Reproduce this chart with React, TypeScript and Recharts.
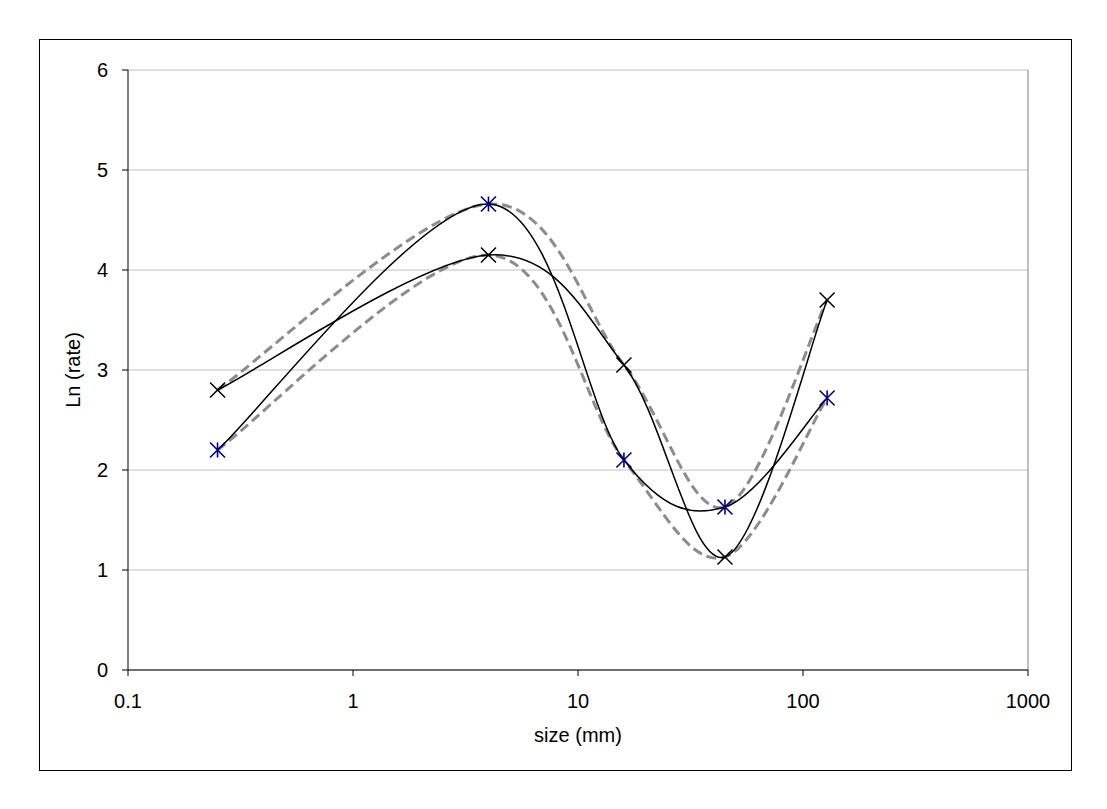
import React from 'react';
import { LineChart, Line, XAxis, YAxis, CartesianGrid, ReferenceLine } from 'recharts';

// particle sizes (mm) and Ln(rate) readings
const sizes = [0.25, 4, 16, 45, 128];
const crossSeries = [2.8, 4.15, 3.05, 1.13, 3.7];
const starSeries = [2.2, 4.66, 2.1, 1.63, 2.72];
const dashedUpper = [2.8, 4.66, 3.05, 1.63, 3.7];
const dashedLower = [2.2, 4.15, 2.1, 1.13, 2.72];
const xTicks = [0.1, 1, 10, 100, 1000];
const yTicks = [0, 1, 2, 3, 4, 5, 6];

const data = sizes.map((size, i) => ({
  size,
  cross: crossSeries[i],
  star: starSeries[i],
  dashA: dashedUpper[i],
  dashB: dashedLower[i],
}));

const FONT = '"Liberation Sans", Arial, sans-serif';

// Excel-like smoothed line (cardinal spline, tangent = (next - prev) / 6)
const excelSmooth = (context: any) => {
  let pts: number[][] = [];
  return {
    areaStart() {},
    areaEnd() {},
    lineStart() {
      pts = [];
    },
    point(x: number, y: number) {
      pts.push([+x, +y]);
    },
    lineEnd() {
      if (!pts.length) return;
      context.moveTo(pts[0][0], pts[0][1]);
      for (let i = 0; i < pts.length - 1; i++) {
        const p0 = pts[Math.max(0, i - 1)];
        const p1 = pts[i];
        const p2 = pts[i + 1];
        const p3 = pts[Math.min(pts.length - 1, i + 2)];
        context.bezierCurveTo(
          p1[0] + (p2[0] - p0[0]) / 6,
          p1[1] + (p2[1] - p0[1]) / 6,
          p2[0] - (p3[0] - p1[0]) / 6,
          p2[1] - (p3[1] - p1[1]) / 6,
          p2[0],
          p2[1]
        );
      }
    },
  };
};

const R = 7.5;

const renderCross = (props: any) => {
  const { cx, cy, index } = props;
  return (
    <path
      key={`cross-${index}`}
      d={`M${cx - R},${cy - R}L${cx + R},${cy + R}M${cx - R},${cy + R}L${cx + R},${cy - R}`}
      stroke="#000"
      strokeWidth={1.5}
      fill="none"
    />
  );
};

const renderStar = (props: any) => {
  const { cx, cy, index } = props;
  return (
    <path
      key={`star-${index}`}
      d={`M${cx - R},${cy - R}L${cx + R},${cy + R}M${cx - R},${cy + R}L${cx + R},${cy - R}M${cx},${cy - R}L${cx},${cy + R}`}
      stroke="#000080"
      strokeWidth={1.6}
      fill="none"
    />
  );
};

const App = () => {
  return (
    <div
      style={{
        position: 'absolute',
        left: 39,
        top: 39,
        width: 1033,
        height: 732,
        border: '1px solid #000',
        boxSizing: 'border-box',
        background: '#fff',
      }}
    >
      <LineChart
        width={1031}
        height={730}
        data={data}
        margin={{ top: 30, right: 43, bottom: 0, left: 28 }}
        style={{ fontFamily: FONT }}
      >
        <CartesianGrid vertical={false} stroke="#c0c0c0" />
        <ReferenceLine x={1000} stroke="#808080" />
        <XAxis
          dataKey="size"
          type="number"
          scale="log"
          domain={[0.1, 1000]}
          ticks={xTicks}
          allowDataOverflow
          height={100}
          tickSize={6}
          tickMargin={18}
          stroke="#000"
          tick={{ fill: '#000', fontSize: 20, fontFamily: FONT }}
          tickFormatter={(v) => String(v)}
          label={{
            content: () => (
              <text x={538} y={702} textAnchor="middle" fill="#000" fontSize={20} fontFamily={FONT}>
                size (mm)
              </text>
            ),
          }}
        />
        <YAxis
          type="number"
          domain={[0, 6]}
          ticks={yTicks}
          width={60}
          tickSize={6}
          tickMargin={14}
          stroke="#000"
          tick={{ fill: '#000', fontSize: 20, fontFamily: FONT }}
          label={{
            content: () => (
              <text
                x={33}
                y={330}
                transform="rotate(-90 33 330)"
                textAnchor="middle"
                dominantBaseline="central"
                fill="#000"
                fontSize={20}
                fontFamily={FONT}
              >
                Ln (rate)
              </text>
            ),
          }}
        />
        <Line
          dataKey="dashA"
          type={excelSmooth as any}
          stroke="#8c8c8c"
          strokeWidth={3}
          strokeDasharray="10 5"
          dot={false}
          activeDot={false}
          isAnimationActive={false}
        />
        <Line
          dataKey="dashB"
          type={excelSmooth as any}
          stroke="#8c8c8c"
          strokeWidth={3}
          strokeDasharray="10 5"
          dot={false}
          activeDot={false}
          isAnimationActive={false}
        />
        <Line
          dataKey="star"
          type={excelSmooth as any}
          stroke="#000"
          strokeWidth={1.5}
          dot={renderStar}
          activeDot={false}
          isAnimationActive={false}
        />
        <Line
          dataKey="cross"
          type={excelSmooth as any}
          stroke="#000"
          strokeWidth={1.5}
          dot={renderCross}
          activeDot={false}
          isAnimationActive={false}
        />
      </LineChart>
    </div>
  );
};

export default App;
